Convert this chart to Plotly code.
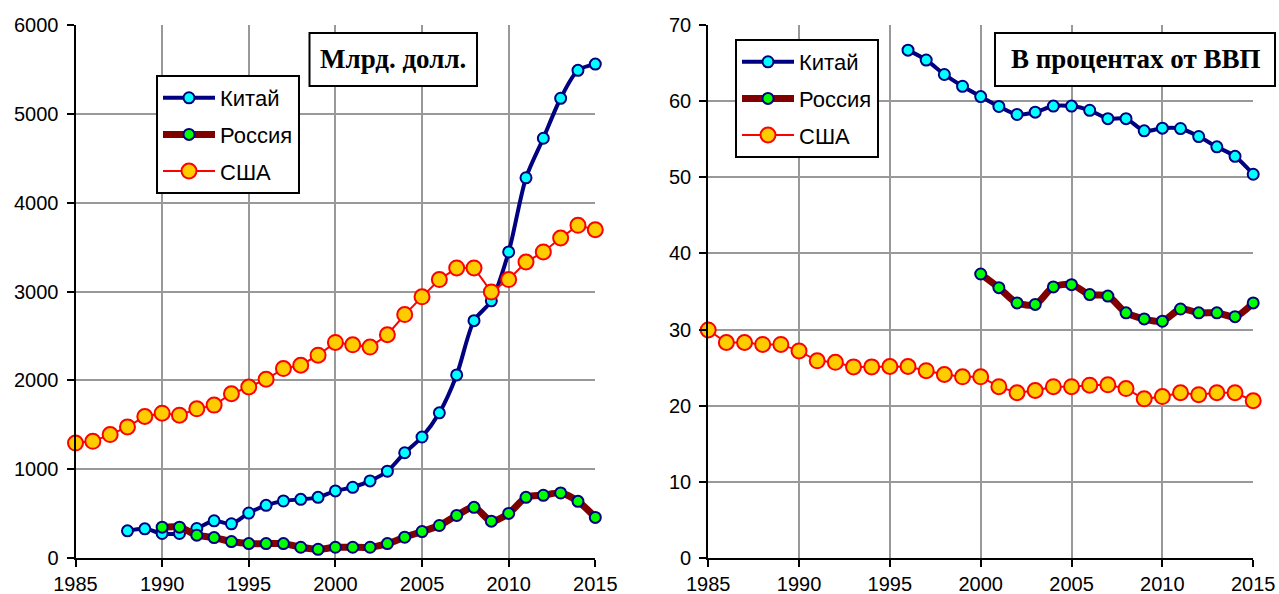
import plotly.graph_objects as go

# ---------------- data ----------------
years_cn_abs = list(range(1988, 2016))
china_abs = [306, 328, 276, 276, 332, 419, 385, 506, 593, 642, 660, 683, 755, 796, 868,
             977, 1185, 1362, 1634, 2061, 2672, 2895, 3445, 4280, 4725, 5175, 5490, 5560]
years_ru_abs = list(range(1990, 2016))
russia_abs = [347, 347, 257, 230, 185, 162, 162, 162, 121, 98, 121, 121, 121, 162, 234,
              298, 366, 479, 570, 415, 502, 683, 706, 732, 638, 457]
years_us_abs = list(range(1985, 2016))
usa_abs = [1294, 1313, 1389, 1476, 1593, 1630, 1608, 1679, 1721, 1849, 1925, 2012, 2132,
           2170, 2283, 2427, 2400, 2374, 2513, 2740, 2940, 3134, 3265, 3265, 2995, 3134,
           3332, 3445, 3602, 3745, 3695]

years_cn_pct = list(range(1996, 2016))
china_pct = [66.7, 65.4, 63.5, 61.95, 60.6, 59.3, 58.25, 58.55, 59.35, 59.35, 58.8, 57.7,
             57.7, 56.1, 56.45, 56.4, 55.35, 54.0, 52.75, 50.4]
years_ru_pct = list(range(2000, 2016))
russia_pct = [37.3, 35.5, 33.5, 33.3, 35.6, 35.9, 34.6, 34.4, 32.2, 31.4, 31.1, 32.7,
              32.2, 32.2, 31.7, 33.5]
years_us_pct = list(range(1985, 2016))
usa_pct = [29.95, 28.3, 28.3, 28.05, 28.05, 27.2, 25.9, 25.7, 25.1, 25.1, 25.15, 25.15,
           24.6, 24.1, 23.8, 23.8, 22.5, 21.7, 22.0, 22.5, 22.5, 22.7, 22.75, 22.25, 20.9,
           21.2, 21.7, 21.45, 21.7, 21.7, 20.65]

names = ["Китай", "Россия", "США"]
title_left = "Млрд. долл."
title_right = "В процентах от ВВП"

# ---------------- styles ----------------
W, H = 1279, 594
FONT = "Liberation Sans, Arial, sans-serif"
SERIF = "Liberation Serif, Times New Roman, serif"

styles = {
    "Китай": dict(line=dict(color="#000080", width=4, shape="spline", smoothing=0.8),
                  marker=dict(color="#00FFFF", size=11, line=dict(color="#000080", width=2))),
    "Россия": dict(line=dict(color="#800000", width=7, shape="spline", smoothing=0.8),
                   marker=dict(color="#00FF00", size=11, line=dict(color="#000080", width=2))),
    "США": dict(line=dict(color="#FF0000", width=2),
                marker=dict(color="#FFCC00", size=15, line=dict(color="#FF0000", width=2))),
}

fig = go.Figure()

left_data = [(years_cn_abs, china_abs), (years_ru_abs, russia_abs), (years_us_abs, usa_abs)]
right_data = [(years_cn_pct, china_pct), (years_ru_pct, russia_pct), (years_us_pct, usa_pct)]

for name, (x, y) in zip(names, left_data):
    fig.add_trace(go.Scatter(x=x, y=y, name=name, mode="lines+markers",
                             xaxis="x", yaxis="y", legend="legend", legendgroup="L" + name,
                             cliponaxis=False, **styles[name]))
for name, (x, y) in zip(names, right_data):
    fig.add_trace(go.Scatter(x=x, y=y, name=name, mode="lines+markers",
                             xaxis="x2", yaxis="y2", legend="legend2", legendgroup="R" + name,
                             cliponaxis=False, **styles[name]))

def px_x(p):
    return p / W

def px_y(p):
    return 1 - p / H

ydom = [px_y(558), px_y(25)]

axis_common = dict(showgrid=True, gridcolor="#999999", gridwidth=2,
                   showline=True, linecolor="black", linewidth=2,
                   ticks="outside", ticklen=7, tickwidth=2, tickcolor="black",
                   tickfont=dict(family=FONT, size=20, color="black"),
                   zeroline=False, automargin=False)

legend_common = dict(xanchor="left", yanchor="top", bgcolor="white", bordercolor="black",
                     borderwidth=2, font=dict(family=FONT, size=22), tracegroupgap=5,
                     itemwidth=52)

fig.update_layout(
    width=W, height=H,
    margin=dict(l=0, r=0, t=0, b=0),
    paper_bgcolor="white", plot_bgcolor="white",
    font=dict(family=FONT, size=20, color="black"),
    xaxis=dict(domain=[px_x(75.5), px_x(595.3)], range=[1985, 2015], tick0=1985, dtick=5,
               anchor="y", **axis_common),
    yaxis=dict(domain=ydom, range=[0, 6000], dtick=1000, anchor="x", ticklabelstandoff=4,
               **axis_common),
    xaxis2=dict(domain=[px_x(708.2), px_x(1253.2)], range=[1985, 2015], tick0=1985, dtick=5,
                anchor="y2", **axis_common),
    yaxis2=dict(domain=ydom, range=[0, 70], dtick=10, anchor="x2", ticklabelstandoff=4,
                **axis_common),
    legend=dict(x=px_x(156), y=px_y(75), **legend_common),
    legend2=dict(x=px_x(735), y=px_y(39), **legend_common),
    shapes=[
        dict(type="rect", xref="paper", yref="paper", x0=px_x(309.5), x1=px_x(477),
             y0=px_y(86), y1=px_y(33), line=dict(color="black", width=2),
             fillcolor="white", layer="above"),
        dict(type="rect", xref="paper", yref="paper", x0=px_x(995), x1=px_x(1275),
             y0=px_y(86), y1=px_y(33), line=dict(color="black", width=2),
             fillcolor="white", layer="above"),
    ],
    annotations=[
        dict(text="<b>%s</b>" % title_left, xref="paper", yref="paper",
             x=px_x((309.5 + 477) / 2), y=px_y(59.5), xanchor="center", yanchor="middle",
             showarrow=False, font=dict(family=SERIF, size=27, color="black")),
        dict(text="<b>%s</b>" % title_right, xref="paper", yref="paper",
             x=px_x((995 + 1275) / 2), y=px_y(59.5), xanchor="center", yanchor="middle",
             showarrow=False, font=dict(family=SERIF, size=27, color="black")),
    ],
)

fig.write_html("out.html", config={"displayModeBar": False},
               post_script="document.body.style.margin='0';document.body.style.overflow='hidden';")
